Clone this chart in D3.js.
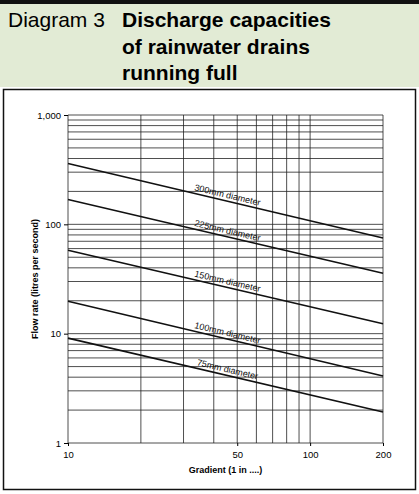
<!DOCTYPE html>
<html><head><meta charset="utf-8">
<script src="https://cdn.jsdelivr.net/npm/d3@7"></script>
<style>body{margin:0;background:#fff;font-family:"Liberation Sans",Arial,sans-serif}</style>
</head><body><div id="vis"></div>
<script>
const W = 419, H = 494;
const MARGINS = {left: 68, right: 36, top: 115, bottom: 51};

// data
const diameters = ["300mm", "225mm", "150mm", "100mm", "75mm"];
const flowAt10 = [360, 169, 58, 19.8, 9.1];
const flowAt200 = [75, 35.7, 12.3, 4.1, 1.92];
const gradients = [10, 200];
const xGrid = [10, 20, 30, 40, 50, 60, 70, 80, 90, 100, 200];
const xTicks = [10, 50, 100, 200];
const yTicks = [1, 10, 100, 1000];

const svg = d3.select("#vis").append("svg").attr("width", W).attr("height", H);

// header
svg.append("rect").attr("x", 0).attr("y", 0).attr("width", W).attr("height", 4).attr("fill", "#111");
svg.append("rect").attr("x", 0).attr("y", 4).attr("width", W).attr("height", 83).attr("fill", "#e2ebd5");
svg.append("text").attr("x", 8).attr("y", 27).attr("font-size", 21).text("Diagram 3");
const tl = ["Discharge capacities", "of rainwater drains", "running full"];
svg.selectAll(".tl").data(tl).enter().append("text")
  .attr("x", 122).attr("y", (d, i) => 27 + i * 26.5)
  .attr("font-size", 21).attr("font-weight", "bold").text(d => d);
svg.append("rect").attr("x", 3.5).attr("y", 89.5).attr("width", 412).attr("height", 400)
  .attr("fill", "none").attr("stroke", "#111").attr("stroke-width", 1.5);

const x = d3.scaleLog().domain([10, 200]).range([MARGINS.left, W - MARGINS.right]);
const y = d3.scaleLog().domain([1, 1000]).range([H - MARGINS.bottom, MARGINS.top]);

// grid
const yGrid = [];
[1, 10, 100].forEach(b => { for (let k = 1; k <= 10; k++) if (!(k === 10 && b < 100)) yGrid.push(b * k); });
svg.selectAll(".hg").data(yGrid).enter().append("line")
  .attr("x1", x(10)).attr("x2", x(200)).attr("y1", d => y(d)).attr("y2", d => y(d))
  .attr("stroke", "#222").attr("stroke-width", 0.8);
svg.selectAll(".vg").data(xGrid).enter().append("line")
  .attr("x1", d => x(d)).attr("x2", d => x(d)).attr("y1", y(1)).attr("y2", y(1000))
  .attr("stroke", "#222").attr("stroke-width", 0.8);

// axes
svg.append("g").attr("transform", `translate(0,${y(1)})`)
  .call(d3.axisBottom(x).tickValues(xTicks).tickFormat(d3.format("d")).tickSize(3))
  .call(g => { g.select(".domain").remove(); g.selectAll("text").attr("font-size", 9.5).attr("dy", "0.9em").attr("font-family", "Liberation Sans"); });
svg.append("g").attr("transform", `translate(${x(10)},0)`)
  .call(d3.axisLeft(y).tickValues(yTicks).tickFormat(d3.format(",")).tickSize(4))
  .call(g => { g.select(".domain").remove(); g.selectAll("text").attr("font-size", 9.5).attr("font-family", "Liberation Sans"); });

svg.append("text").attr("x", (x(10) + x(200)) / 2).attr("y", 473).attr("text-anchor", "middle")
  .attr("font-size", 9).attr("font-weight", "bold").text("Gradient (1 in ....)");
svg.append("text").attr("transform", `translate(38,${(y(1) + y(1000)) / 2}) rotate(-90)`)
  .attr("text-anchor", "middle").attr("font-size", 9).attr("font-weight", "bold")
  .text("Flow rate (litres per second)");

// lines
const line = d3.line().x(d => x(d[0])).y(d => y(d[1]));
diameters.forEach((name, i) => {
  const pts = [[gradients[0], flowAt10[i]], [gradients[1], flowAt200[i]]];
  svg.append("path").attr("d", line(pts)).attr("fill", "none").attr("stroke", "#111").attr("stroke-width", 1.6);
  const slope = Math.log(flowAt200[i] / flowAt10[i]) / Math.log(20);
  const g = 45, f = flowAt10[i] * Math.pow(g / 10, slope);
  const ang = Math.atan2(y(flowAt200[i]) - y(flowAt10[i]), x(200) - x(10)) * 180 / Math.PI;
  svg.append("text")
    .attr("transform", `translate(${x(g)},${y(f)}) rotate(${ang})`)
    .attr("y", -3).attr("text-anchor", "middle").attr("font-size", 9).attr("fill", "#111")
    .text(name + " diameter");
});
</script></body></html>
